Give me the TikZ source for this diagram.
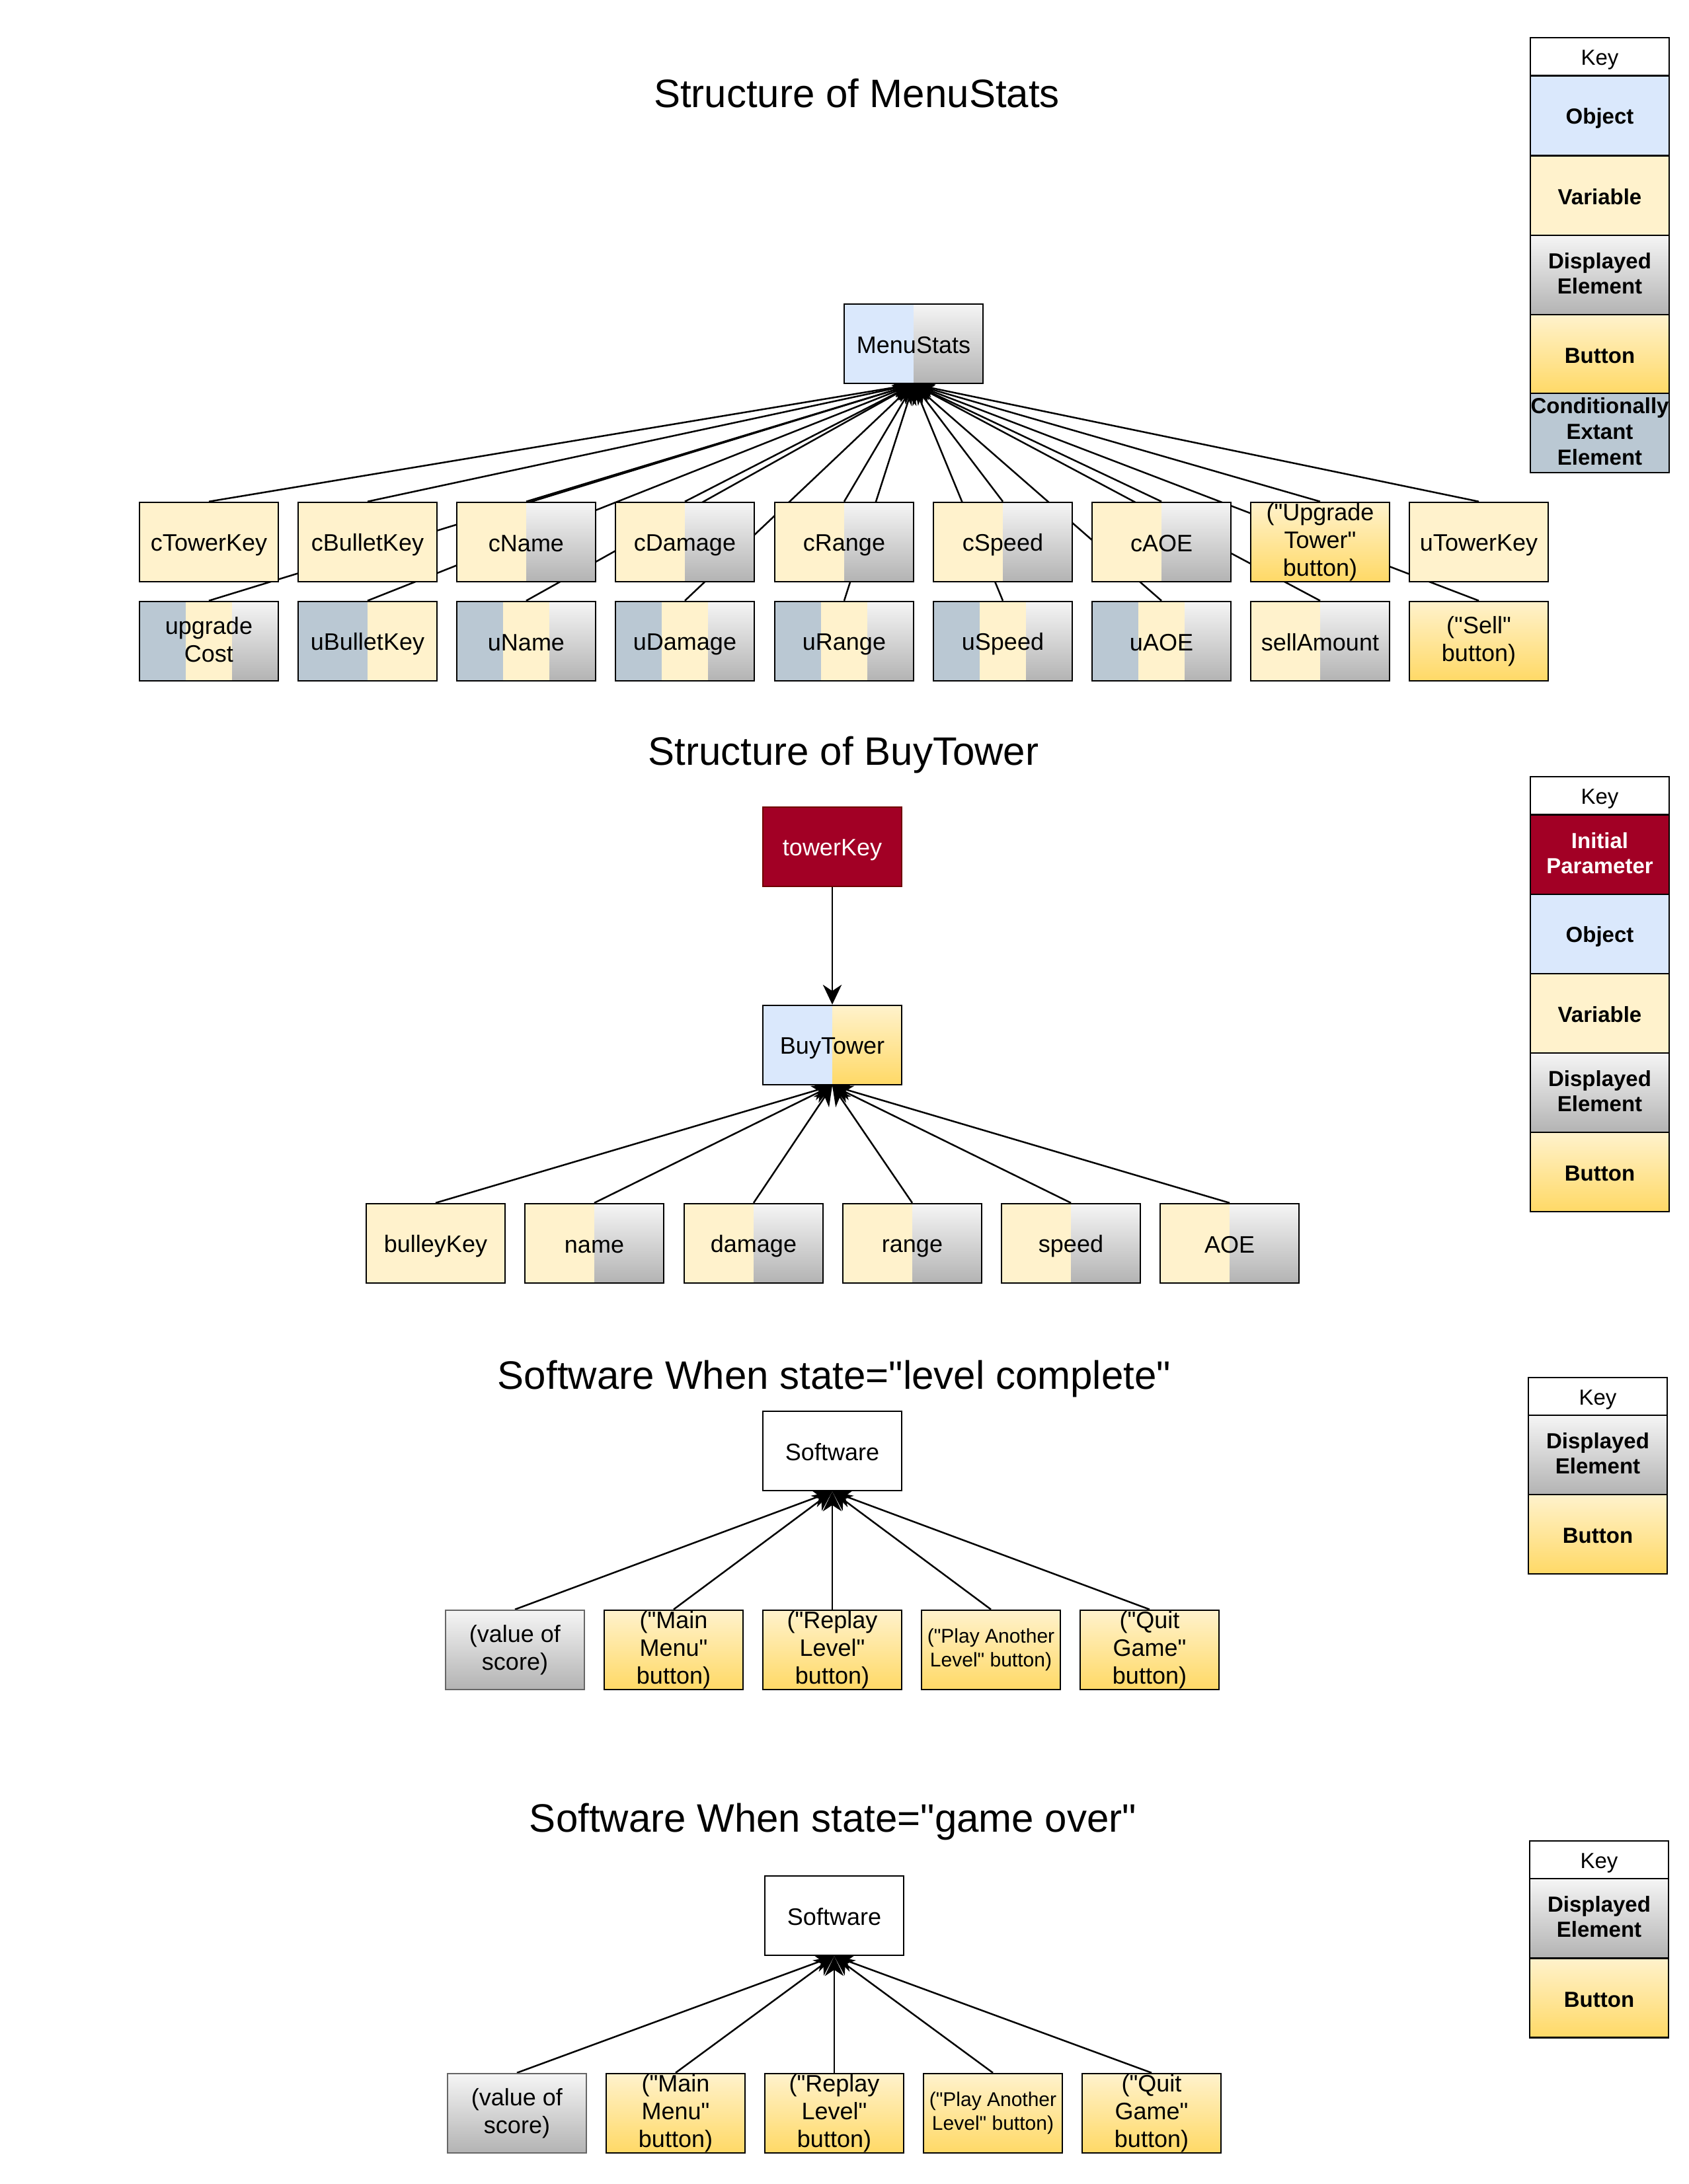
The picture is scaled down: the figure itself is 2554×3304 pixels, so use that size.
\documentclass[tikz,border=0pt]{standalone}
\usepackage{fontspec}
\setmainfont{Liberation Sans}[Ligatures=TeXOff]
\usetikzlibrary{arrows.meta,calc}
\pgfdeclarelayer{bottom}
\pgfdeclarelayer{background}
\pgfsetlayers{bottom,background,main}
\definecolor{objc}{HTML}{DAE8FC}
\definecolor{varc}{HTML}{FFF2CC}
\definecolor{gtop}{HTML}{F5F5F5}
\definecolor{gbot}{HTML}{B3B3B3}
\definecolor{btop}{HTML}{FFF2CC}
\definecolor{bbot}{HTML}{FFD966}
\definecolor{condc}{HTML}{BAC8D3}
\definecolor{initc}{HTML}{A20025}
\definecolor{initd}{HTML}{6F0000}
\definecolor{grayd}{HTML}{666666}
\newcommand\mylbl{\fontsize{10.8}{12.6}\selectfont}
\newcommand\mysmlbl{\fontsize{9}{10.8}\selectfont}
\newcommand\mykeyf{\fontsize{9.9}{11.6}\selectfont}
\newcommand\myttl{\fontsize{18}{21}\selectfont}
\newcommand\mystrut{\rule[-0.15em]{0pt}{1.13em}}
\newcommand\mytopstrut{\rule[-0.15em]{0pt}{1.36em}}
\newcommand\ppS[1]{($(path picture bounding box.south west)!#1!(path picture bounding box.south east)$)}
\newcommand\ppN[1]{($(path picture bounding box.north west)!#1!(path picture bounding box.north east)$)}
\tikzset{
  box/.style={draw=black, line width=0.75pt, minimum width=63pt, minimum height=36pt, inner sep=0pt, align=center, font=\mylbl,
    execute at begin node=\mystrut, execute at end node=\mystrut},
  ml/.style={execute at begin node=\mytopstrut},
  var/.style={box, fill=varc},
  btn/.style={box, top color=btop, bottom color=bbot},
  disp/.style={box, draw=grayd, top color=gtop, bottom color=gbot},
  plain/.style={box, fill=white},
  init/.style={box, fill=initc, draw=initd, text=white},
  vd/.style={box, path picture={\fill[varc] \ppS{0} rectangle \ppN{0.5}; \shade[top color=gtop,bottom color=gbot] \ppS{0.5} rectangle \ppN{1};}},
  cv/.style={box, path picture={\fill[condc] \ppS{0} rectangle \ppN{0.5}; \fill[varc] \ppS{0.5} rectangle \ppN{1};}},
  cvd/.style={box, path picture={\fill[condc] \ppS{0} rectangle \ppN{0.3333}; \fill[varc] \ppS{0.3333} rectangle \ppN{0.6667}; \shade[top color=gtop,bottom color=gbot] \ppS{0.6667} rectangle \ppN{1};}},
  od/.style={box, path picture={\fill[objc] \ppS{0} rectangle \ppN{0.5}; \shade[top color=gtop,bottom color=gbot] \ppS{0.5} rectangle \ppN{1};}},
  ob/.style={box, path picture={\fill[objc] \ppS{0} rectangle \ppN{0.5}; \shade[top color=btop,bottom color=bbot] \ppS{0.5} rectangle \ppN{1};}},
  arr/.style={line width=0.75pt, -{Stealth[length=9pt,width=8.5pt,inset=2.8pt]}},
  keyhead/.style={draw=black, line width=0.75pt, minimum width=63pt, minimum height=17.1pt, inner sep=0pt, font=\mykeyf,
    execute at begin node=\mystrut},
  keycell/.style={draw=black, line width=0.75pt, minimum width=63pt, minimum height=36pt, inner sep=0pt, align=center, font=\mykeyf\bfseries,
    execute at begin node=\mystrut, execute at end node=\mystrut},
  ttl/.style={font=\myttl, inner sep=0pt}
}
\begin{document}
\begin{tikzpicture}[x=0.3pt,y=-0.3pt]
\begin{pgfonlayer}{bottom}
\fill[white] (0,0) rectangle (2554,3304);
\end{pgfonlayer}
\useasboundingbox (0,0) rectangle (2554,3304);

% ---------------- MenuStats ----------------
\node[ttl] (t1) at (1296,141) {Structure of MenuStats};
\node[od] (ms) at (1382,520) {MenuStats};

\node[var] (a1) at (316,820) {cTowerKey};
\node[var] (a2) at (556,820) {cBulletKey};
\node[vd]  (a3) at (796,820) {cName};
\node[vd]  (a4) at (1036,820) {cDamage};
\node[vd]  (a5) at (1277,820) {cRange};
\node[vd]  (a6) at (1517,820) {cSpeed};
\node[vd]  (a7) at (1757,820) {cAOE};
\node[btn, ml] (a8) at (1997,820) {("Upgrade\\Tower"\\button)};
\node[var] (a9) at (2237,820) {uTowerKey};

\node[cvd, ml] (b1) at (316,970) {upgrade\\Cost};
\node[cv]  (b2) at (556,970) {uBulletKey};
\node[cvd] (b3) at (796,970) {uName};
\node[cvd] (b4) at (1036,970) {uDamage};
\node[cvd] (b5) at (1277,970) {uRange};
\node[cvd] (b6) at (1517,970) {uSpeed};
\node[cvd] (b7) at (1757,970) {uAOE};
\node[vd]  (b8) at (1997,970) {sellAmount};
\node[btn, ml] (b9) at (2237,970) {("Sell"\\button)};

\begin{pgfonlayer}{background}
\foreach \n in {a1,a2,a3,a4,a5,a6,a7,a8,a9,b1,b2,b3,b4,b5,b6,b7,b8,b9}
  \draw[arr] (\n.north) -- (ms.south);
\end{pgfonlayer}

% Key 1
\node[keyhead] (k1h) at (2420,85.5) {Key};
\node[keycell, fill=objc] (k1o) at (2420,175) {Object};
\node[keycell, fill=varc] (k1v) at (2420,296) {Variable};
\node[keycell, ml, top color=gtop, bottom color=gbot] (k1d) at (2420,416) {Displayed\\Element};
\node[keycell, top color=btop, bottom color=bbot] (k1b) at (2420,536) {Button};
\node[keycell, ml, fill=condc] (k1c) at (2420,655) {Conditionally\\Extant\\Element};

% ---------------- BuyTower ----------------
\node[ttl] (t2) at (1276,1142) {Structure of BuyTower};
\node[init] (tk) at (1259,1281) {towerKey};
\node[ob] (bt) at (1259,1581) {BuyTower};
\draw[arr] (tk.south) -- (bt.north);

\node[var] (c1) at (659,1881) {bulleyKey};
\node[vd]  (c2) at (899,1881) {name};
\node[vd]  (c3) at (1140,1881) {damage};
\node[vd]  (c4) at (1380,1881) {range};
\node[vd]  (c5) at (1620,1881) {speed};
\node[vd]  (c6) at (1860,1881) {AOE};
\begin{pgfonlayer}{background}
\foreach \n in {c1,c2,c3,c4,c5,c6}
  \draw[arr] (\n.north) -- (bt.south);
\end{pgfonlayer}

% Key 2
\node[keyhead] (k2h) at (2420,1203.5) {Key};
\node[keycell, ml, fill=initc, text=white] (k2i) at (2420,1293) {Initial\\Parameter};
\node[keycell, fill=objc] (k2o) at (2420,1413) {Object};
\node[keycell, fill=varc] (k2v) at (2420,1533) {Variable};
\node[keycell, ml, top color=gtop, bottom color=gbot] (k2d) at (2420,1653) {Displayed\\Element};
\node[keycell, top color=btop, bottom color=bbot] (k2b) at (2420,1773) {Button};

% ---------------- level complete ----------------
\node[ttl] (t3) at (1262,2086) {Software When state="level complete"};
\node[plain] (sw1) at (1259,2195) {Software};
\node[disp, ml] (d1) at (779,2496) {(value of\\score)};
\node[btn, ml]  (d2) at (1019,2496) {("Main\\Menu"\\button)};
\node[btn, ml]  (d3) at (1259,2496) {("Replay\\Level"\\button)};
\node[btn, ml, font=\mysmlbl] (d4) at (1499,2496) {("Play Another\\Level" button)};
\node[btn, ml]  (d5) at (1739,2496) {("Quit\\Game"\\button)};
\begin{pgfonlayer}{background}
\foreach \n in {d1,d2,d3,d4,d5}
  \draw[arr] (\n.north) -- (sw1.south);
\end{pgfonlayer}

% Key 3
\node[keyhead] (k3h) at (2417,2112.5) {Key};
\node[keycell, ml, top color=gtop, bottom color=gbot] (k3d) at (2417,2201) {Displayed\\Element};
\node[keycell, top color=btop, bottom color=bbot] (k3b) at (2417,2321) {Button};

% ---------------- game over ----------------
\node[ttl] (t4) at (1260,2756) {Software When state="game over"};
\node[plain] (sw2) at (1262,2898) {Software};
\node[disp, ml] (e1) at (782,3197) {(value of\\score)};
\node[btn, ml]  (e2) at (1022,3197) {("Main\\Menu"\\button)};
\node[btn, ml]  (e3) at (1262,3197) {("Replay\\Level"\\button)};
\node[btn, ml, font=\mysmlbl] (e4) at (1502,3197) {("Play Another\\Level" button)};
\node[btn, ml]  (e5) at (1742,3197) {("Quit\\Game"\\button)};
\begin{pgfonlayer}{background}
\foreach \n in {e1,e2,e3,e4,e5}
  \draw[arr] (\n.north) -- (sw2.south);
\end{pgfonlayer}

% Key 4
\node[keyhead] (k4h) at (2419,2813.5) {Key};
\node[keycell, ml, top color=gtop, bottom color=gbot] (k4d) at (2419,2902) {Displayed\\Element};
\node[keycell, top color=btop, bottom color=bbot] (k4b) at (2419,3022.5) {Button};
\end{tikzpicture}
\end{document}
